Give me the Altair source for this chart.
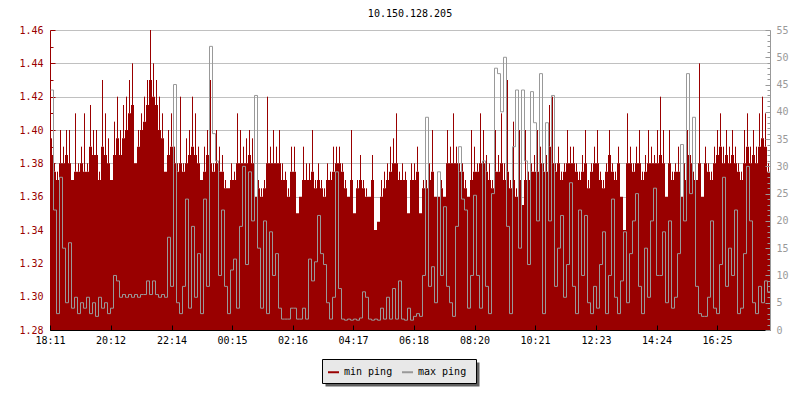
import altair as alt
import pandas as pd

chart_title = "10.150.128.205"
start_time = "18:11"
step_minutes = 6
span_minutes = 1440

x_tick_labels = ["18:11", "20:12", "22:14", "00:15", "02:16", "04:17",
                 "06:18", "08:20", "10:21", "12:23", "14:24", "16:25"]
left_tick_labels = [1.28, 1.30, 1.32, 1.34, 1.36, 1.38, 1.40, 1.42, 1.44, 1.46]
right_tick_labels = [0, 5, 10, 15, 20, 25, 30, 35, 40, 45, 50, 55]
series_names = ["min ping", "max ping"]
series_colors = ["#990000", "#999999"]

# min ping (ms): highest reading in each 6-minute slot from 18:11
min_ping_peak = [
    1.395, 1.38, 1.375, 1.40, 1.39, 1.40, 1.40, 1.37, 1.41, 1.38,
    1.39, 1.41, 1.38, 1.415, 1.40, 1.40, 1.375, 1.43, 1.41, 1.395,
    1.37, 1.405, 1.42, 1.40, 1.415, 1.42, 1.43, 1.44, 1.38, 1.40,
    1.41, 1.42, 1.43, 1.46, 1.44, 1.43, 1.42, 1.41, 1.375, 1.40,
    1.41, 1.39, 1.38, 1.42, 1.38, 1.395, 1.40, 1.42, 1.41, 1.39,
    1.37, 1.39, 1.40, 1.43, 1.38, 1.40, 1.39, 1.385, 1.37, 1.365,
    1.38, 1.375, 1.41, 1.40, 1.39, 1.395, 1.40, 1.395, 1.36, 1.37,
    1.365, 1.37, 1.42, 1.39, 1.40, 1.39, 1.40, 1.38, 1.375, 1.365,
    1.39, 1.39, 1.35, 1.36, 1.39, 1.38, 1.38, 1.40, 1.37, 1.38,
    1.37, 1.365, 1.38, 1.375, 1.39, 1.39, 1.39, 1.38, 1.37, 1.36,
    1.40, 1.35, 1.37, 1.385, 1.37, 1.365, 1.36, 1.385, 1.34, 1.345,
    1.37, 1.375, 1.38, 1.39, 1.395, 1.41, 1.375, 1.38, 1.375, 1.35,
    1.38, 1.38, 1.39, 1.35, 1.37, 1.37, 1.38, 1.40, 1.36, 1.36,
    1.37, 1.36, 1.40, 1.39, 1.41, 1.39, 1.38, 1.38, 1.37, 1.36,
    1.40, 1.39, 1.38, 1.41, 1.40, 1.385, 1.38, 1.37, 1.40, 1.385,
    1.41, 1.38, 1.43, 1.37, 1.405, 1.365, 1.40, 1.355, 1.40, 1.375,
    1.38, 1.385, 1.40, 1.39, 1.38, 1.385, 1.415, 1.42, 1.38, 1.39,
    1.375, 1.38, 1.40, 1.39, 1.39, 1.38, 1.375, 1.385, 1.40, 1.37,
    1.38, 1.39, 1.40, 1.375, 1.37, 1.38, 1.40, 1.38, 1.375, 1.39,
    1.36, 1.34, 1.41, 1.39, 1.38, 1.39, 1.40, 1.375, 1.385, 1.40,
    1.39, 1.385, 1.40, 1.42, 1.40, 1.36, 1.40, 1.375, 1.38, 1.39,
    1.36, 1.38, 1.40, 1.385, 1.375, 1.37, 1.44, 1.36, 1.39, 1.38,
    1.375, 1.39, 1.40, 1.41, 1.39, 1.40, 1.39, 1.40, 1.39, 1.38,
    1.375, 1.40, 1.41, 1.39, 1.40, 1.39, 1.41, 1.42, 1.41, 1.38,
]

# min ping (ms): level held through most of each slot (solid part of the band)
min_ping_base = [
    1.385, 1.375, 1.37, 1.38, 1.38, 1.385, 1.38, 1.37, 1.375, 1.375,
    1.38, 1.375, 1.375, 1.39, 1.385, 1.385, 1.37, 1.39, 1.385, 1.38,
    1.37, 1.385, 1.395, 1.385, 1.395, 1.40, 1.41, 1.415, 1.38, 1.39,
    1.40, 1.405, 1.415, 1.43, 1.42, 1.415, 1.40, 1.395, 1.375, 1.385,
    1.39, 1.38, 1.375, 1.38, 1.375, 1.38, 1.385, 1.39, 1.385, 1.38,
    1.37, 1.375, 1.385, 1.38, 1.375, 1.38, 1.375, 1.375, 1.365, 1.365,
    1.37, 1.37, 1.38, 1.38, 1.38, 1.38, 1.385, 1.38, 1.36, 1.365,
    1.36, 1.365, 1.38, 1.38, 1.38, 1.38, 1.38, 1.37, 1.37, 1.36,
    1.375, 1.375, 1.35, 1.36, 1.37, 1.37, 1.37, 1.375, 1.365, 1.37,
    1.365, 1.36, 1.37, 1.37, 1.375, 1.38, 1.38, 1.375, 1.365, 1.36,
    1.37, 1.35, 1.365, 1.37, 1.365, 1.36, 1.36, 1.37, 1.34, 1.345,
    1.36, 1.365, 1.37, 1.375, 1.38, 1.38, 1.37, 1.37, 1.37, 1.35,
    1.37, 1.37, 1.375, 1.35, 1.365, 1.365, 1.37, 1.375, 1.36, 1.36,
    1.365, 1.36, 1.38, 1.38, 1.38, 1.38, 1.375, 1.375, 1.365, 1.36,
    1.37, 1.375, 1.375, 1.38, 1.38, 1.375, 1.37, 1.365, 1.375, 1.375,
    1.38, 1.37, 1.375, 1.365, 1.37, 1.36, 1.37, 1.355, 1.37, 1.37,
    1.375, 1.375, 1.375, 1.38, 1.375, 1.375, 1.39, 1.38, 1.375, 1.38,
    1.37, 1.375, 1.38, 1.38, 1.38, 1.375, 1.37, 1.375, 1.38, 1.365,
    1.375, 1.38, 1.38, 1.37, 1.365, 1.375, 1.385, 1.375, 1.37, 1.38,
    1.36, 1.34, 1.38, 1.38, 1.375, 1.38, 1.38, 1.37, 1.375, 1.38,
    1.38, 1.38, 1.38, 1.385, 1.38, 1.36, 1.38, 1.37, 1.375, 1.375,
    1.36, 1.37, 1.385, 1.38, 1.37, 1.37, 1.38, 1.36, 1.38, 1.375,
    1.37, 1.38, 1.385, 1.39, 1.38, 1.385, 1.38, 1.385, 1.38, 1.375,
    1.37, 1.38, 1.39, 1.38, 1.385, 1.38, 1.39, 1.395, 1.39, 1.375,
]

# max ping (ms), same slots
max_ping = [
    44, 22, 3, 28, 15, 5, 16, 4, 6, 3,
    5, 4, 6, 3, 5, 2.5, 6, 4, 5, 3,
    4, 10, 9, 6, 6.5, 6, 6.5, 6, 6.5, 6,
    6.5, 6.5, 9, 6.5, 9, 6.5, 6, 6.5, 6, 17,
    8, 45, 5, 3, 8, 24, 4, 19, 6, 14,
    3, 24, 8, 52, 36, 31, 10, 22, 8, 3,
    11, 13, 4, 19, 30, 12, 29, 20, 43, 15,
    4, 20, 3, 18, 10, 14, 4, 2, 2, 2,
    4, 4, 2, 2, 4, 2, 13, 9, 12.5, 21,
    14, 12, 5, 2, 6, 29, 7.6, 2, 1.8, 2,
    1.8, 2, 1.8, 2.2, 7, 6, 2, 1.8, 2, 1.8,
    4, 2, 6, 2, 7.6, 2, 9, 2, 1.8, 4,
    1.8, 2.5, 3, 2.5, 10, 39, 8, 11.6, 5, 29,
    10, 22.6, 8, 5, 2.5, 19, 33.6, 24, 22, 4,
    10, 24.7, 10, 4, 31, 8, 3, 25, 48, 47,
    40, 50, 19, 3, 33.6, 44, 15, 44, 31, 12,
    43.7, 38, 20, 47, 3, 38, 20, 43, 8, 15,
    21, 6, 12, 27, 8, 3, 22, 10, 21, 5,
    3, 8, 4, 12, 18, 3, 10, 24, 6, 3,
    9, 18, 5, 14, 20, 25, 8, 3, 15, 6,
    20, 26, 10, 10, 18, 5, 20, 4, 6, 14,
    34, 20, 47, 25, 39, 8, 3, 2.5, 2.5, 6,
    20, 4, 3, 12, 28, 8, 15, 10, 22, 3,
    4, 14, 30, 20, 5, 3, 8, 5, 9, 7,
]

FONT = "DejaVu Sans Mono"


def minutes_after_start(label):
    h, m = (int(p) for p in label.split(":"))
    sh, sm = (int(p) for p in start_time.split(":"))
    return ((h * 60 + m) - (sh * 60 + sm)) % 1440


sh, sm = (int(p) for p in start_time.split(":"))
x_tick_values = [minutes_after_start(l) for l in x_tick_labels]
left_lo, left_hi = left_tick_labels[0], left_tick_labels[-1]
left_axis_values = [round(left_lo + 0.01 * k, 2)
                    for k in range(int(round((left_hi - left_lo) / 0.01)) + 1)]
right_axis_values = list(range(right_tick_labels[0], right_tick_labels[-1] + 1))

n = len(min_ping_base)
df = pd.DataFrame({
    "t": [i * step_minutes for i in range(n)] + [n * step_minutes],
    "base": min_ping_base + [min_ping_base[-1]],
    "peak": min_ping_peak + [min_ping_peak[-1]],
    "max_ping": max_ping + [max_ping[-1]],
})

x_scale = alt.Scale(domain=[0, span_minutes], nice=False, zero=False)
x_axis = alt.Axis(
    values=x_tick_values,
    labelExpr=f"timeFormat(datetime(2020, 0, 1, {sh}, {sm} + datum.value), '%H:%M')",
    title=None, grid=False,
    domainColor="#000000", tickColor="#000000", labelColor="#000000",
    tickSize={"expr": "-5"}, labelPadding=10,
    labelFont=FONT, labelFontSize=10, labelOverlap=False, labelFlush=False,
    zindex=1,
)

legend = alt.Legend(
    orient="none", legendX=277, legendY=335.5, direction="horizontal",
    title=None, padding=0, columnPadding=5, labelOffset=4,
    labelFont=FONT, labelFontSize=10, labelColor="#000000",
    symbolType="stroke", symbolSize=121, symbolStrokeWidth=2,
    zindex=1,
)
color_scale = alt.Scale(domain=series_names, range=series_colors)

major_left = "abs(round(datum.value * 100) % 2) == 0"
left_axis = alt.Axis(
    orient="left", values=left_axis_values, title=None,
    labelExpr=f"{major_left} ? format(datum.value, '.2f') : ''",
    domainColor="#990000", tickColor="#990000", labelColor="#990000",
    tickSize={"condition": {"test": major_left, "value": -5}, "value": -3},
    labelPadding=12, labelFont=FONT, labelFontSize=10, labelOverlap=False,
    grid=True, gridColor="#c0c0c0",
    gridOpacity={"condition": {"test": major_left, "value": 1}, "value": 0},
    zindex=0,
)
left_scale = alt.Scale(domain=[left_lo, left_hi], nice=False, zero=False)

major_right = "datum.value % 5 == 0"
right_axis = alt.Axis(
    orient="right", values=right_axis_values, title=None,
    labelExpr=f"{major_right} ? format(datum.value, 'd') : ''",
    domainColor="#999999", tickColor="#999999", labelColor="#999999",
    tickSize={"condition": {"test": major_right, "value": -5}, "value": -3},
    labelPadding=11, labelFont=FONT, labelFontSize=10, labelOverlap=False,
    grid=False, zindex=1,
)

red_base = alt.Chart(df).transform_calculate(series=f"'{series_names[0]}'").mark_area(
    interpolate="step-after", clip=True
).encode(
    x=alt.X("t:Q", scale=x_scale, axis=x_axis),
    y=alt.Y("base:Q", scale=left_scale, axis=left_axis),
    color=alt.Color("series:N", scale=color_scale, legend=legend),
)

red_spikes = alt.Chart(df).transform_filter(
    f"datum.t < {span_minutes}"
).transform_calculate(tm=f"datum.t + {step_minutes / 2}").mark_rule(
    color=series_colors[0], strokeWidth=1, clip=True
).encode(
    x=alt.X("tm:Q", scale=x_scale, axis=x_axis),
    y=alt.Y("base:Q", scale=left_scale, axis=left_axis),
    y2="peak:Q",
)

red = alt.layer(red_base, red_spikes)

gray = alt.Chart(df).transform_calculate(
    series=f"'{series_names[1]}'", tx="datum.t + 1"
).mark_line(
    interpolate="step-after", strokeWidth=1, clip=True
).encode(
    x=alt.X("tx:Q", scale=x_scale, axis=x_axis),
    y=alt.Y("max_ping:Q",
            scale=alt.Scale(domain=[right_tick_labels[0], right_tick_labels[-1]], nice=False, zero=False),
            axis=right_axis),
    color=alt.Color("series:N", scale=color_scale, legend=legend),
)

deco = pd.DataFrame({"k": [0]})
shadow = alt.Chart(deco).mark_rect(color="#606060").encode(
    x=alt.value(275.5), x2=alt.value(429.5), y=alt.value(332.5), y2=alt.value(356.5)
)
box = alt.Chart(deco).mark_rect(fill="#e8e8e8", stroke="#000000", strokeWidth=1).encode(
    x=alt.value(272.5), x2=alt.value(426.5), y=alt.value(329.5), y2=alt.value(353.5)
)

chart = alt.layer(red, gray, shadow, box).resolve_scale(y="independent").properties(
    width=720, height=300,
    padding={"left": 42, "top": 22, "right": 22, "bottom": 62},
    autosize=alt.AutoSizeParams(type="none"),
    background="#ffffff",
    title=alt.TitleParams(chart_title, font=FONT, fontSize=10, fontWeight="normal",
                          color="#000000", anchor="middle", offset=6),
).configure_view(strokeWidth=0)

chart.save("out.html", embed_options={"renderer": "svg", "actions": False})
